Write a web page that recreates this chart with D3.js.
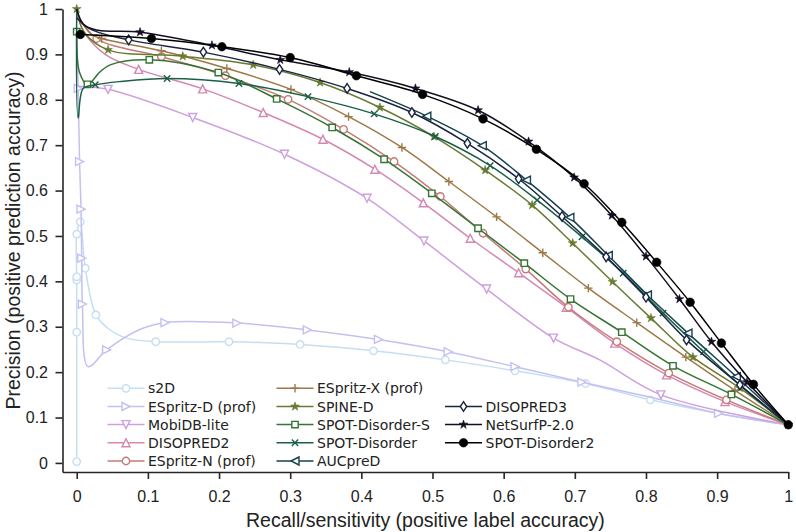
<!DOCTYPE html>
<html>
<head>
<meta charset="utf-8">
<script src="https://cdn.jsdelivr.net/npm/d3@7"></script>
<style>
  body { margin: 0; background: #fff; }
  svg { display: block; }
</style>
</head>
<body>
<div id="chart"></div>
<script>
// precision-recall points: [recall, precision, hasMarker]
const s2D = [[0,0.003,1],[0,0.288,1],[0,0.403,1],[0,0.41,1],[0,0.504,1],[0.005,0.531,1],[0.012,0.429,1],[0.027,0.326,1],
  [0.045,0.295,0],[0.07,0.275,0],[0.111,0.267,1],[0.214,0.267,1],[0.314,0.261,1],[0.417,0.247,1],[0.518,0.227,1],
  [0.616,0.203,1],[0.715,0.175,1],[0.806,0.139,1],[0.905,0.108,0],[1,0.084,0]];
const espritzD = [[0,0.95,0],[0.002,0.825,1],[0.004,0.664,1],[0.006,0.559,1],[0.007,0.451,1],[0.008,0.35,1],[0.016,0.212,0],
  [0.042,0.249,1],[0.09,0.295,0],[0.124,0.309,1],[0.225,0.308,1],[0.324,0.293,1],[0.424,0.272,1],[0.522,0.245,1],
  [0.616,0.212,1],[0.71,0.178,1],[0.805,0.145,0],[0.902,0.109,1],[1,0.084,0]];
const mobidbLite = [[0.002,0.83,0],[0.044,0.823,1],[0.163,0.761,1],[0.292,0.68,1],[0.408,0.583,1],[0.488,0.489,1],
  [0.576,0.383,1],[0.67,0.275,1],[0.735,0.227,0],[0.821,0.15,1],[1,0.084,0]];
const disopred2 = [[0,1,0],[0.01,0.95,0],[0.04,0.9,0],[0.087,0.867,1],[0.177,0.824,1],[0.262,0.772,1],[0.346,0.713,1],
  [0.419,0.647,1],[0.487,0.573,1],[0.553,0.495,1],[0.621,0.419,1],[0.688,0.343,1],[0.756,0.264,1],[0.829,0.194,1],
  [0.911,0.135,1],[1,0.084,0]];
const espritzN = [[0,0.99,0],[0.028,0.935,1],[0.119,0.895,1],[0.209,0.853,1],[0.297,0.801,1],[0.375,0.735,1],
  [0.446,0.664,1],[0.511,0.587,1],[0.571,0.506,1],[0.631,0.427,1],[0.691,0.343,1],[0.759,0.267,1],[0.832,0.198,1],
  [0.913,0.139,1],[1,0.084,0]];
const espritzX = [[0,0.99,0],[0.02,0.945,0],[0.035,0.935,1],[0.119,0.908,1],[0.211,0.869,1],[0.301,0.823,1],
  [0.382,0.763,1],[0.457,0.695,1],[0.523,0.62,1],[0.59,0.542,1],[0.655,0.463,1],[0.719,0.385,1],[0.787,0.309,1],
  [0.856,0.233,1],[0.925,0.16,1],[1,0.084,0]];
const spineD = [[0,1,1],[0.01,0.95,0],[0.044,0.91,1],[0.149,0.896,1],[0.248,0.877,1],[0.342,0.838,1],[0.426,0.783,1],
  [0.502,0.719,1],[0.574,0.645,1],[0.64,0.568,1],[0.697,0.484,1],[0.753,0.399,1],[0.807,0.319,1],[0.866,0.233,1],
  [0.932,0.165,1],[1,0.084,0]];
const spotDisorderS = [[0,0.95,1],[0.004,0.86,0],[0.015,0.834,1],[0.033,0.862,0],[0.047,0.877,0],[0.102,0.888,1],
  [0.199,0.86,1],[0.281,0.802,1],[0.359,0.739,1],[0.432,0.669,1],[0.499,0.594,1],[0.564,0.517,1],[0.629,0.44,1],
  [0.694,0.361,1],[0.766,0.288,1],[0.838,0.214,1],[0.92,0.151,1],[1,0.084,0]];
const spotDisorder = [[0,1,0],[0.002,0.76,0],[0.009,0.825,0],[0.026,0.833,1],[0.06,0.84,0],[0.127,0.847,1],
  [0.228,0.836,1],[0.325,0.807,1],[0.418,0.769,1],[0.504,0.719,1],[0.581,0.655,1],[0.647,0.579,1],[0.71,0.498,1],
  [0.768,0.418,1],[0.824,0.33,1],[0.881,0.245,1],[0.94,0.16,0],[1,0.084,0]];
const aucpred = [[0.412,0.818,0],[0.492,0.764,1],[0.57,0.699,1],[0.632,0.623,1],[0.693,0.541,1],[0.747,0.457,1],
  [0.802,0.37,1],[0.859,0.286,1],[0.927,0.19,1],[1,0.084,0]];
const disopred3 = [[0,0.98,0],[0.02,0.955,0],[0.073,0.932,1],[0.178,0.905,1],[0.285,0.867,1],[0.38,0.825,1],
  [0.471,0.772,1],[0.549,0.704,1],[0.621,0.626,1],[0.682,0.543,1],[0.744,0.454,1],[0.8,0.365,1],[0.857,0.271,1],
  [0.932,0.172,1],[1,0.084,0]];
const netsurfp = [[0,1,0],[0.01,0.965,0],[0.03,0.953,0],[0.089,0.949,1],[0.19,0.92,1],[0.286,0.888,1],[0.383,0.861,1],
  [0.476,0.825,1],[0.564,0.777,1],[0.635,0.708,1],[0.699,0.629,1],[0.752,0.545,1],[0.8,0.455,1],[0.847,0.361,1],
  [0.892,0.267,1],[0.942,0.178,1],[1,0.084,1]];
const spotDisorder2 = [[0.005,0.944,1],[0.105,0.935,1],[0.204,0.917,1],[0.3,0.893,1],[0.393,0.853,1],[0.486,0.812,1],
  [0.571,0.758,1],[0.646,0.691,1],[0.713,0.615,1],[0.766,0.53,1],[0.815,0.442,1],[0.862,0.354,1],[0.906,0.264,1],
  [0.951,0.173,1],[1,0.084,1]];

const seriesNames = ["s2D","ESpritz-D (prof)","MobiDB-lite","DISOPRED2","ESpritz-N (prof)","ESpritz-X (prof)",
  "SPINE-D","SPOT-Disorder-S","SPOT-Disorder","AUCpreD","DISOPRED3","NetSurfP-2.0","SPOT-Disorder2"];
const seriesData = [s2D, espritzD, mobidbLite, disopred2, espritzN, espritzX, spineD, spotDisorderS,
  spotDisorder, aucpred, disopred3, netsurfp, spotDisorder2];
const tickValues = [0,0.1,0.2,0.3,0.4,0.5,0.6,0.7,0.8,0.9,1];

// styling
const markerTypes = ["o",">","v","^","o","+","*","s","x","<","d","*","O"];
const color = i => d3.interpolateCubehelixDefault((12 - i) * 0.85 / 12);

const W = 796, H = 532;
const svg = d3.select("#chart").append("svg").attr("width", W).attr("height", H);

const x = d3.scaleLinear([-0.02, 1], [62.5, 788.3]);
const y = d3.scaleLinear([-0.02, 1], [472, 9]);

function markerPath(t) {
  switch (t) {
    case "o": return d3.symbol(d3.symbolCircle, Math.PI * 3.7 * 3.7)();
    case "O": return d3.symbol(d3.symbolCircle, Math.PI * 4.3 * 4.3)();
    case "^": return "M0,-4L4,4L-4,4Z";
    case "v": return "M0,4L4,-4L-4,-4Z";
    case ">": return "M4,0L-4,-4L-4,4Z";
    case "<": return "M-4,0L4,-4L4,4Z";
    case "s": return "M-3.2,-3.2H3.2V3.2H-3.2Z";
    case "d": return "M0,-4.8L3.2,0L0,4.8L-3.2,0Z";
    case "+": return "M-4.2,0H4.2M0,-4.2V4.2";
    case "x": return "M-3.2,-3.2L3.2,3.2M-3.2,3.2L3.2,-3.2";
    case "*": return d3.symbol(d3.symbolStar, 24)();
  }
}
function markerStyle(sel, t, c) {
  const filled = t === "*" || t === "O";
  const open = t === "+" || t === "x";
  sel.attr("d", markerPath(t))
    .attr("fill", filled ? c : (open ? "none" : "#fff"))
    .attr("stroke", c)
    .attr("stroke-width", filled ? 0.6 : 1.4);
}

// axes
const fmt = d => (d === 0 || d === 1) ? String(d) : d.toFixed(1);
const gx = svg.append("g").attr("transform", "translate(0,472)")
  .call(d3.axisBottom(x).tickValues(tickValues).tickFormat(fmt).tickSize(7).tickSizeOuter(0).tickPadding(12));
const gy = svg.append("g").attr("transform", "translate(62.5,0)")
  .call(d3.axisLeft(y).tickValues(tickValues).tickFormat(fmt).tickSize(7).tickSizeOuter(0).tickPadding(7.5));
[gx, gy].forEach(g => {
  g.selectAll(".domain, .tick line").attr("stroke", "#262626").attr("stroke-width", 1.6);
  g.selectAll("text").attr("font-family", "Liberation Sans, Arial, sans-serif").attr("font-size", 16).attr("fill", "#222");
});

svg.append("text").attr("x", 425.4).attr("y", 527).attr("text-anchor", "middle")
  .attr("font-family", "Liberation Sans, Arial, sans-serif").attr("font-size", 19.5).attr("fill", "#222")
  .text("Recall/sensitivity (positive label accuracy)");
svg.append("text").attr("transform", "translate(19.5,240.5) rotate(-90)").attr("text-anchor", "middle")
  .attr("font-family", "Liberation Sans, Arial, sans-serif").attr("font-size", 19.5).attr("fill", "#222")
  .text("Precision (positive prediction accuracy)");

// curves
const line = d3.line().x(d => x(d[0])).y(d => y(d[1])).curve(d3.curveCatmullRom.alpha(0.5));
const plot = svg.append("g");
seriesData.forEach((data, i) => {
  const c = color(i);
  const g = plot.append("g");
  g.append("path").attr("d", line(data)).attr("fill", "none").attr("stroke", c).attr("stroke-width", 1.5);
  g.selectAll("path.m").data(data.filter(d => d[2])).join("path").attr("class", "m")
    .attr("transform", d => `translate(${x(d[0])},${y(d[1])})`)
    .call(markerStyle, markerTypes[i], c);
});

// legend: 3 columns, third column starts on second row
const colX = [107.5, 276.5, 445];
const rowY = [388.3, 406.5, 424.6, 442.8, 461];
const slot = i => i < 5 ? [0, i] : i < 10 ? [1, i - 5] : [2, i - 9];
const legend = svg.append("g");
seriesNames.forEach((name, i) => {
  const [cI, rI] = slot(i);
  const lx = colX[cI], ly = rowY[rI], c = color(i);
  const g = legend.append("g");
  g.append("line").attr("x1", lx).attr("x2", lx + 37).attr("y1", ly).attr("y2", ly)
    .attr("stroke", c).attr("stroke-width", 1.5);
  g.append("path").attr("transform", `translate(${lx + 18.5},${ly})`).call(markerStyle, markerTypes[i], c);
  g.append("text").attr("x", lx + 40.5).attr("y", ly).attr("dy", "0.36em")
    .attr("font-family", "DejaVu Sans, sans-serif").attr("font-size", 14).attr("fill", "#222")
    .text(name);
});
</script>
</body>
</html>
